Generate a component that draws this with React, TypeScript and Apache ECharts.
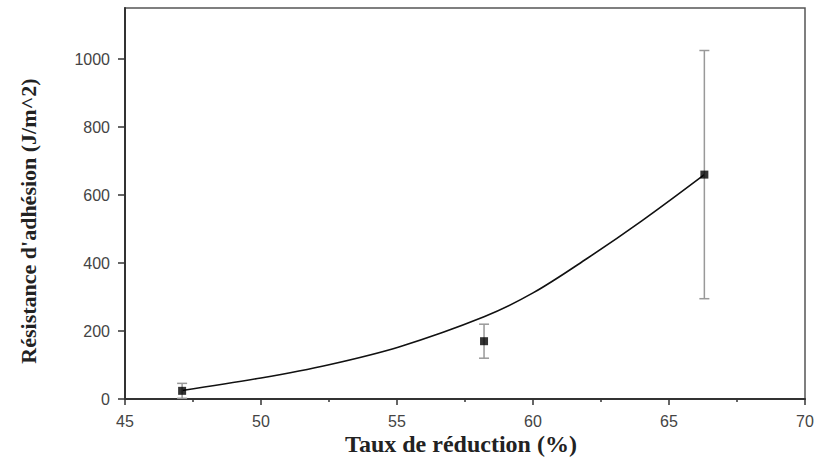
import React, { useEffect, useRef } from "react";
import * as echarts from "echarts";

const pointX = [47.1, 58.2, 66.3];
const pointY = [24, 170, 660];
const pointErr = [22, 50, 365];

const fitX = [47.1, 50, 52.5, 55.1, 58.2, 60, 62, 64, 66.3];
const fitY = [25, 62, 101, 154, 242, 312, 414, 524, 660];

const yTicks = [0, 200, 400, 600, 800, 1000];
const xTicks = [45, 50, 55, 60, 65, 70];

const xTitle = "Taux de réduction (%)";
const yTitle = "Résistance d'adhésion (J/m^2)";

export default function App() {
  const ref = useRef<HTMLDivElement>(null);
  useEffect(() => {
    if (!ref.current) return;
    const chart = echarts.init(ref.current, null, { renderer: "svg" });
    const tickFont = { fontFamily: "Liberation Sans", fontSize: 16, color: "#444" };
    chart.setOption({
      animation: false,
      backgroundColor: "#fff",
      grid: {
        left: 125,
        right: 13,
        top: 8,
        bottom: 58,
        show: true,
        borderColor: "#555",
        borderWidth: 1.5,
      },
      graphic: [
        {
          type: "text",
          x: 461,
          y: 444,
          style: {
            text: xTitle,
            fontFamily: "Liberation Serif",
            fontWeight: "bold",
            fontSize: 24,
            fill: "#222",
            align: "center",
            verticalAlign: "middle",
          },
        },
        {
          type: "text",
          x: 28,
          y: 221,
          rotation: Math.PI / 2,
          style: {
            text: yTitle,
            fontFamily: "Liberation Serif",
            fontWeight: "bold",
            fontSize: 22,
            fill: "#222",
            align: "center",
            verticalAlign: "middle",
          },
        },
      ],
      xAxis: {
        type: "value",
        min: 45,
        max: 70,
        interval: 5,
        splitLine: { show: false },
        axisLine: { lineStyle: { color: "#333", width: 2 } },
        axisTick: { customValues: xTicks, length: 6, lineStyle: { color: "#333", width: 1.5 } },
        minorTick: { show: true, splitNumber: 2, length: 3, lineStyle: { color: "#333", width: 1.5 } },
        axisLabel: { customValues: xTicks, margin: 14, formatter: (v: number) => String(v), ...tickFont },
      },
      yAxis: {
        type: "value",
        min: 0,
        max: 1150,
        splitLine: { show: false },
        axisLine: { lineStyle: { color: "#333", width: 2 } },
        axisTick: { customValues: yTicks, length: 7, lineStyle: { color: "#333", width: 1.5 } },
        axisLabel: { customValues: yTicks, margin: 15, formatter: (v: number) => String(v), ...tickFont },
      },
      series: [
        {
          type: "line",
          data: fitX.map((x, i) => [x, fitY[i]]),
          smooth: 0.35,
          showSymbol: false,
          lineStyle: { color: "#111", width: 1.6 },
          z: 2,
        },
        {
          type: "custom",
          data: pointX.map((x, i) => [x, pointY[i], pointErr[i]]),
          renderItem: (params: any, api: any) => {
            const x = api.value(0);
            const y = api.value(1);
            const e = api.value(2);
            const top = api.coord([x, y + e]);
            const bot = api.coord([x, Math.max(0, y - e)]);
            const w = 5;
            const style = { stroke: "#999", lineWidth: 1.5 };
            return {
              type: "group",
              children: [
                { type: "line", shape: { x1: top[0], y1: top[1], x2: bot[0], y2: bot[1] }, style },
                { type: "line", shape: { x1: top[0] - w, y1: top[1], x2: top[0] + w, y2: top[1] }, style },
                { type: "line", shape: { x1: bot[0] - w, y1: bot[1], x2: bot[0] + w, y2: bot[1] }, style },
              ],
            };
          },
          z: 3,
        },
        {
          type: "scatter",
          data: pointX.map((x, i) => [x, pointY[i]]),
          symbol: "rect",
          symbolSize: 8,
          itemStyle: { color: "#000" },
          z: 4,
        },
      ],
    });
    return () => chart.dispose();
  }, []);
  return (
    <div
      ref={ref}
      style={{ position: "absolute", left: 0, top: 0, width: 818, height: 457 }}
    />
  );
}
